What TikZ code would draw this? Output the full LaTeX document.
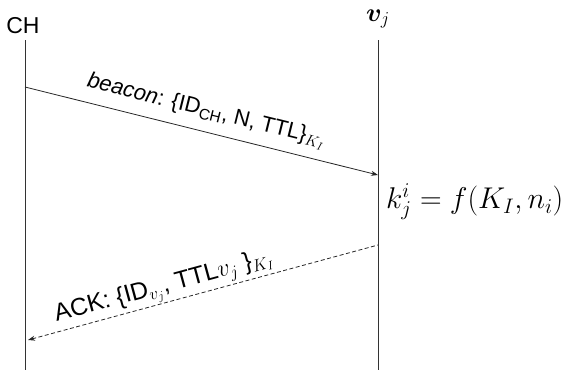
\documentclass[tikz,border=0pt]{standalone}
\usepackage{fix-cm}
\usepackage{amsmath,bm}
\usepackage{fontspec}
\setmainfont{Liberation Sans}
\usetikzlibrary{arrows.meta}
\begin{document}
\begin{tikzpicture}[x=1pt,y=-1pt,
  lifeline/.style={draw=black!80, line width=0.9pt},
  msg/.style={draw=black!85, line width=0.8pt, -{Stealth[length=7pt,width=5pt]}},
  msgback/.style={draw=black!85, line width=0.8pt, dashed, dash pattern=on 4pt off 2.5pt, {Stealth[length=7pt,width=5pt]}-},
  lbl/.style={font=\fontsize{22}{24}\selectfont, inner sep=1pt}]
\useasboundingbox (0,0) rectangle (568,370);
\coordinate (chT) at (25,40);
\coordinate (chB) at (25,370);
\coordinate (vT) at (378,40);
\coordinate (vB) at (378,370);
\coordinate (b1) at (25,87);
\coordinate (b2) at (378,175);
\coordinate (a1) at (378,245);
\coordinate (a2) at (28,340);
\node[font=\fontsize{23}{26}\selectfont, inner sep=0pt] (ch) at (23,26) {CH};
\node[font=\fontsize{26}{30}\selectfont, anchor=base west, inner sep=0pt] (vj) at (366,21) {$\bm{v}_j$};
\draw[lifeline] (chT) -- (chB);
\draw[lifeline] (vT) -- (vB);
\draw[msg] (b1) -- (b2) node[lbl, pos=0.5, sloped, above=8pt] (bl) {\textit{beacon}: \{ID\textsubscript{CH}, N, TTL\}$_{K_I}$};
\draw[msgback] (a2) -- (a1) node[lbl, font=\fontsize{24.5}{28}\selectfont, pos=0.4, sloped, above=0pt] (al) {ACK: \{ID$_{v_j}$, TTL$v_j$ \}$_{K_I}$};
\node[anchor=west, font=\fontsize{30}{34}\selectfont, inner sep=0pt] (f) at (386,202) {$k_j^i = f(K_I, n_i)$};
\end{tikzpicture}
\end{document}
